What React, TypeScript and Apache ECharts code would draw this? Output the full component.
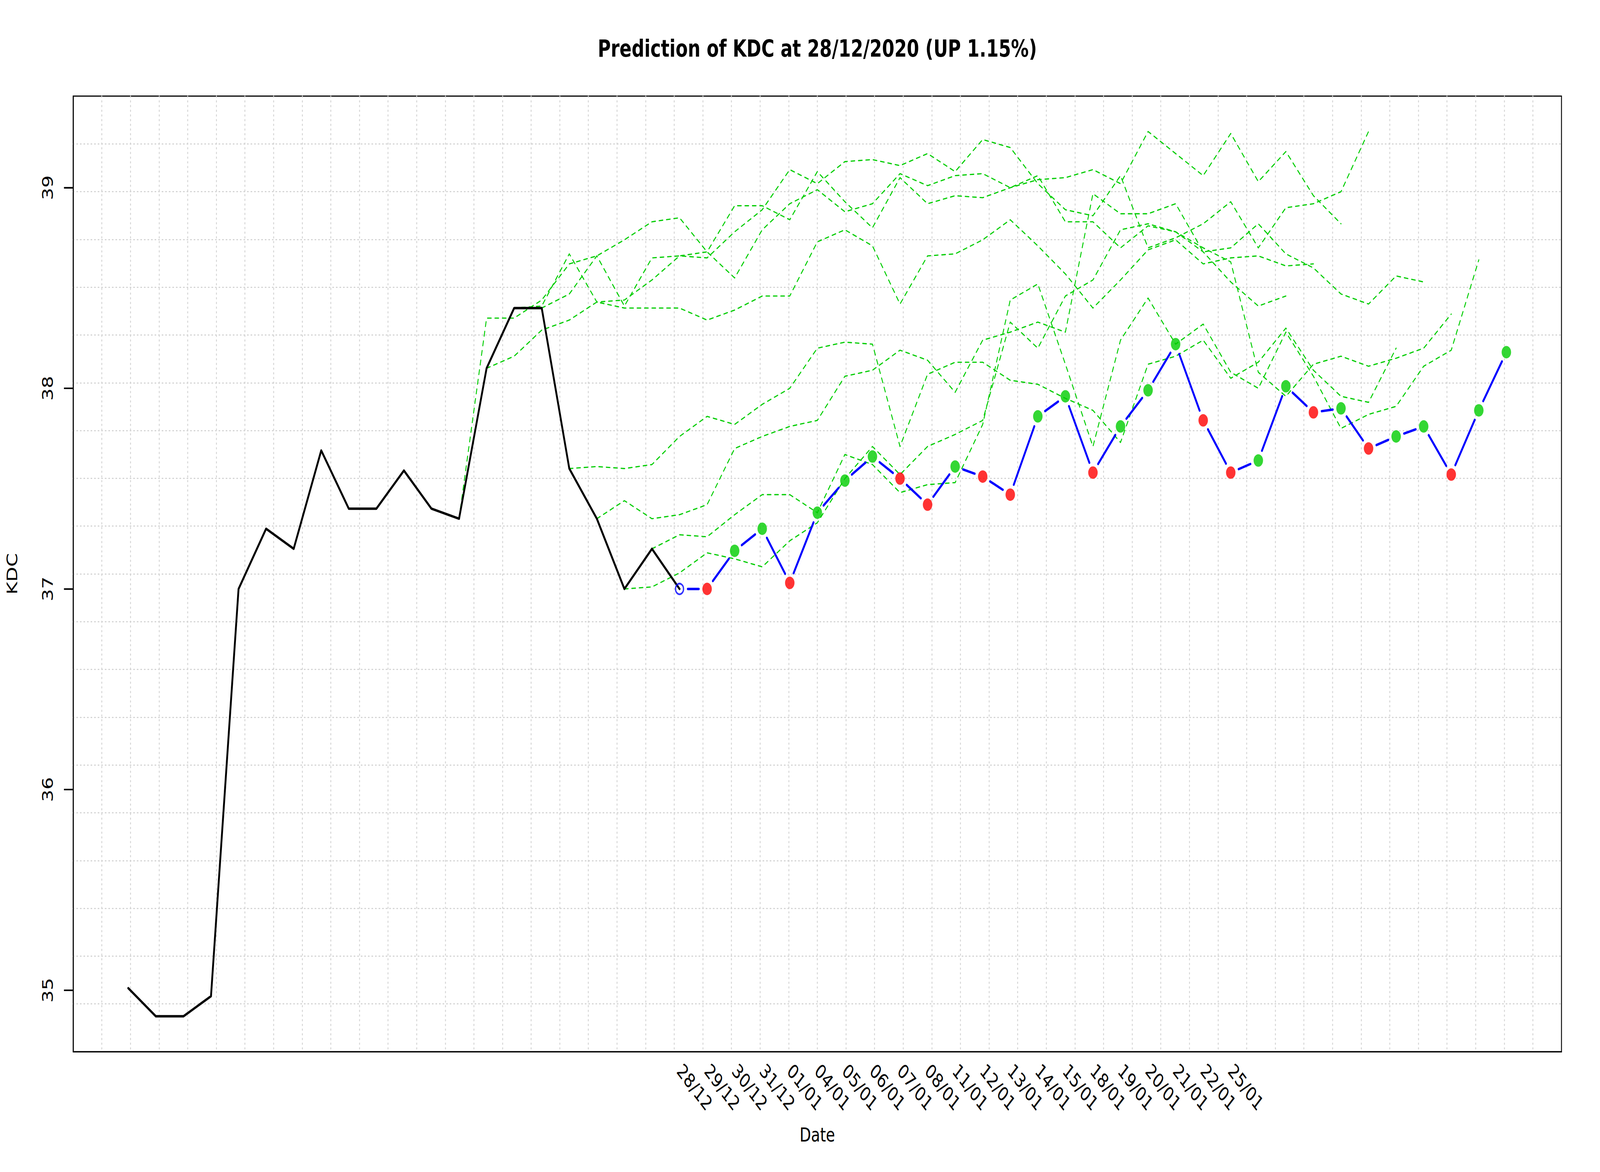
import React, { useEffect, useRef } from "react";
import * as echarts from "echarts";

// ---------- texts ----------
const TITLE = "Prediction of KDC at 28/12/2020 (UP 1.15%)";
const X_NAME = "Date";
const Y_NAME = "KDC";

// ---------- axis ticks / labels ----------
const DATE_LABEL_START = 20;
const DATE_LABELS = [
  "28/12", "29/12", "30/12", "31/12", "01/01", "04/01", "05/01", "06/01", "07/01", "08/01",
  "11/01", "12/01", "13/01", "14/01", "15/01", "18/01", "19/01", "20/01", "21/01", "22/01", "25/01",
];
const Y_TICKS = [35, 36, 37, 38, 39];

// ---------- data ----------
// observed prices, index 0..20
const HISTORY = [
  35.01, 34.87, 34.87, 34.97, 37.0, 37.3, 37.2, 37.69, 37.4, 37.4,
  37.59, 37.4, 37.35, 38.1, 38.4, 38.4, 37.6, 37.35, 37.0, 37.2, 37.0,
];
// current prediction, index 20..50
const FORECAST_START = 20;
const FORECAST = [
  37.0, 37.0, 37.19, 37.3, 37.03, 37.38, 37.54, 37.66, 37.55, 37.42,
  37.61, 37.56, 37.47, 37.86, 37.96, 37.58, 37.81, 37.99, 38.22, 37.84,
  37.58, 37.64, 38.01, 37.88, 37.9, 37.7, 37.76, 37.81, 37.57, 37.89, 38.18,
];
// earlier predictions (start index, values)
const PAST_12 = [37.35, 38.35, 38.35, 38.44, 38.62, 38.66, 38.74, 38.83, 38.85, 38.68, 38.55, 38.79, 38.92, 38.99, 38.88, 38.92, 39.07, 39.01, 39.06, 39.07, 39.0, 39.06, 38.83, 38.83, 38.7, 38.81, 38.78, 38.68, 38.53, 38.41, 38.46];
const PAST_13 = [38.1, 38.16, 38.29, 38.34, 38.43, 38.4, 38.4, 38.4, 38.34, 38.39, 38.46, 38.46, 38.73, 38.79, 38.71, 38.42, 38.66, 38.67, 38.74, 38.84, 38.71, 38.57, 38.4, 38.54, 38.69, 38.74, 38.62, 38.65, 38.66, 38.61, 38.62];
const PAST_14 = [38.4, 38.41, 38.67, 38.43, 38.44, 38.54, 38.66, 38.68, 38.91, 38.91, 38.84, 39.08, 38.93, 38.8, 39.05, 38.92, 38.96, 38.95, 39.0, 39.04, 39.05, 39.09, 39.02, 39.28, 39.17, 39.06, 39.27, 39.03, 39.18, 38.96, 38.82];
const PAST_15 = [38.4, 38.47, 38.66, 38.41, 38.65, 38.66, 38.65, 38.78, 38.89, 39.09, 39.02, 39.13, 39.14, 39.11, 39.17, 39.08, 39.24, 39.2, 39.02, 38.89, 38.86, 39.06, 38.7, 38.75, 38.82, 38.93, 38.7, 38.9, 38.92, 38.98, 39.28];
const PAST_16 = [37.6, 37.61, 37.6, 37.62, 37.76, 37.86, 37.82, 37.92, 38.0, 38.2, 38.23, 38.22, 37.71, 38.07, 38.13, 38.13, 38.04, 38.02, 37.95, 37.89, 37.73, 38.12, 38.16, 38.24, 38.05, 38.13, 38.3, 38.09, 37.96, 37.93, 38.2];
const PAST_17 = [37.35, 37.44, 37.35, 37.37, 37.42, 37.7, 37.76, 37.81, 37.84, 38.06, 38.09, 38.19, 38.14, 37.98, 38.24, 38.28, 38.33, 38.28, 38.97, 38.87, 38.87, 38.92, 38.68, 38.7, 38.82, 38.67, 38.6, 38.47, 38.42, 38.56, 38.53];
const PAST_18 = [37.0, 37.01, 37.08, 37.18, 37.15, 37.11, 37.24, 37.33, 37.55, 37.71, 37.57, 37.71, 37.77, 37.84, 38.33, 38.2, 38.46, 38.54, 38.79, 38.82, 38.78, 38.7, 38.63, 38.08, 37.96, 38.12, 38.16, 38.11, 38.15, 38.2, 38.37];
const PAST_19 = [37.2, 37.27, 37.26, 37.37, 37.47, 37.47, 37.38, 37.67, 37.62, 37.48, 37.52, 37.53, 37.82, 38.44, 38.52, 38.12, 37.71, 38.24, 38.45, 38.22, 38.32, 38.08, 38.0, 38.28, 38.06, 37.8, 37.87, 37.91, 38.11, 38.19, 38.64];
const PAST_STARTS = [12, 13, 14, 15, 16, 17, 18, 19];
const PAST_SERIES = [PAST_12, PAST_13, PAST_14, PAST_15, PAST_16, PAST_17, PAST_18, PAST_19];

// ---------- styling ----------
const FONT = "DejaVu Sans";
const GREEN = "#00CD00";
const RED = "#FF0000";
const BLUE = "#0000FF";
const GRID_NX = 52;
const GRID_NY = 20;
const DESIGN_W = 5400;
const DESIGN_H = 3000;
const TICK_LEN = 31;

// R-like axis extents: data range padded by 4%.
// The x axis runs from 0, so positions are index + X_PAD (keeps the y axis on the left edge).
const LAST_INDEX = FORECAST_START + FORECAST.length - 1;
const X_PAD = 0.04 * LAST_INDEX;
const X_SPAN = LAST_INDEX + 2 * X_PAD;
const px = (i: number) => i + X_PAD;
const ALL_VALUES = [...HISTORY, ...FORECAST, ...PAST_SERIES.flat()];
const V_MIN = Math.min(...ALL_VALUES);
const V_MAX = Math.max(...ALL_VALUES);
const Y_MIN = V_MIN - 0.04 * (V_MAX - V_MIN);
const Y_MAX = V_MAX + 0.04 * (V_MAX - V_MIN);

const PLOT = { left: 247, top: 246, width: 5023, height: 2446 };

if (typeof document !== "undefined" && document.body) {
  document.body.style.margin = "0";
  document.body.style.overflow = "hidden";
  document.documentElement.style.overflow = "hidden";
}

function buildOption(): echarts.EChartsCoreOption {
  const labelPos = DATE_LABELS.map((_, i) => px(DATE_LABEL_START + i));
  const segs = FORECAST.slice(1).map((v, i) => [
    px(FORECAST_START + i), FORECAST[i], px(FORECAST_START + i + 1), v,
  ]);
  const dots = FORECAST.slice(1).map((v, i) => ({
    value: [px(FORECAST_START + i + 1), v],
    itemStyle: { color: v > FORECAST[i] ? GREEN : RED },
  }));

  const gridLine = {
    show: true,
    showMinLine: false,
    showMaxLine: false,
    lineStyle: { color: "#D3D3D3", width: 3, type: [3, 9], cap: "round" },
  };

  return {
    animation: false,
    backgroundColor: "#FFFFFF",
    title: {
      text: TITLE,
      left: PLOT.left + PLOT.width / 2,
      top: 95,
      textAlign: "center",
      padding: 0,
      textStyle: { fontFamily: FONT, fontWeight: "bold", fontSize: 60, color: "#000" },
    },
    grid: {
      ...PLOT,
      show: true,
      borderColor: "#000",
      borderWidth: 3,
      backgroundColor: "transparent",
      containLabel: false,
    },
    xAxis: [
      {
        type: "value",
        min: 0,
        max: X_SPAN,
        position: "bottom",
        axisLine: { show: true, lineStyle: { color: "#000", width: 3 } },
        axisTick: { show: false },
        splitLine: { show: false },
        axisLabel: {
          customValues: labelPos,
          formatter: (v: number) => DATE_LABELS[Math.round(v - X_PAD) - DATE_LABEL_START] ?? "",
          rotate: -45,
          margin: 40,
          fontFamily: FONT,
          fontSize: 50,
          color: "#000",
        },
        name: X_NAME,
        nameLocation: "middle",
        nameGap: 188,
        nameTextStyle: { fontFamily: FONT, fontSize: 50, color: "#000" },
      },
      {
        type: "value",
        min: 0,
        max: GRID_NX,
        interval: 1,
        position: "bottom",
        axisLine: { show: false },
        axisTick: { show: false },
        axisLabel: { show: false },
        splitLine: gridLine,
      },
    ],
    yAxis: [
      {
        type: "value",
        min: Y_MIN,
        max: Y_MAX,
        position: "left",
        axisLine: { show: true, lineStyle: { color: "#000", width: 3 } },
        axisTick: {
          show: true,
          customValues: Y_TICKS,
          length: TICK_LEN,
          lineStyle: { color: "#000", width: 3.5 },
        },
        axisLabel: {
          customValues: Y_TICKS,
          rotate: 90,
          margin: 62,
          fontFamily: FONT,
          fontSize: 50,
          color: "#000",
        },
        splitLine: { show: false },
        name: Y_NAME,
        nameLocation: "middle",
        nameRotate: 90,
        nameGap: 181,
        nameTextStyle: { fontFamily: FONT, fontSize: 50, color: "#000" },
      },
      {
        type: "value",
        min: 0,
        max: GRID_NY,
        interval: 1,
        position: "left",
        axisLine: { show: false },
        axisTick: { show: false },
        axisLabel: { show: false },
        splitLine: gridLine,
      },
    ],
    series: [
      {
        // tick marks at the labelled y values, placed through the axis scale
        type: "custom",
        name: "yTicks",
        xAxisIndex: 0,
        yAxisIndex: 0,
        clip: false,
        silent: true,
        z: 10,
        data: Y_TICKS.map((v) => [0, v]),
        renderItem: (_p: any, api: any) => {
          const c = api.coord([api.value(0), api.value(1)]);
          return {
            type: "line",
            shape: { x1: c[0] - TICK_LEN, y1: c[1], x2: c[0], y2: c[1] },
            style: { stroke: "#000", lineWidth: 3.5 },
          };
        },
      },
      ...PAST_SERIES.map((arr, k) => ({
        type: "line",
        name: "past" + PAST_STARTS[k],
        xAxisIndex: 0,
        yAxisIndex: 0,
        data: arr.map((v, i) => [px(PAST_STARTS[k] + i), v]),
        symbol: "none",
        z: 2,
        lineStyle: { color: GREEN, width: 3.1, type: [12.5, 12.5], cap: "round", join: "round" },
      })),
      {
        type: "line",
        name: "history",
        xAxisIndex: 0,
        yAxisIndex: 0,
        data: HISTORY.map((v, i) => [px(i), v]),
        symbol: "none",
        z: 3,
        lineStyle: { color: "#000", width: 6.25, cap: "round", join: "round" },
      },
      {
        type: "custom",
        name: "forecastLine",
        xAxisIndex: 0,
        yAxisIndex: 0,
        z: 4,
        encode: { x: [0, 2], y: [1, 3] },
        data: segs,
        renderItem: (_p: any, api: any) => {
          const a = api.coord([api.value(0), api.value(1)]);
          const b = api.coord([api.value(2), api.value(3)]);
          const dx = b[0] - a[0];
          const dy = b[1] - a[1];
          const len = Math.hypot(dx, dy);
          const gap = 28;
          if (len <= 2 * gap) return null;
          const ux = dx / len;
          const uy = dy / len;
          return {
            type: "line",
            shape: { x1: a[0] + ux * gap, y1: a[1] + uy * gap, x2: b[0] - ux * gap, y2: b[1] - uy * gap },
            style: { stroke: BLUE, lineWidth: 6.25, lineCap: "round" },
          };
        },
      },
      {
        type: "scatter",
        name: "forecastPoints",
        xAxisIndex: 0,
        yAxisIndex: 0,
        z: 5,
        symbol: "circle",
        symbolSize: 32,
        data: dots,
      },
      {
        type: "scatter",
        name: "start",
        xAxisIndex: 0,
        yAxisIndex: 0,
        z: 6,
        symbol: "circle",
        symbolSize: 27,
        itemStyle: { color: "rgba(0,0,0,0)", borderColor: BLUE, borderWidth: 4.5 },
        data: [[px(FORECAST_START), FORECAST[0]]],
      },
    ],
  };
}

export default function App() {
  const ref = useRef<HTMLDivElement>(null);
  const vw = typeof window !== "undefined" && window.innerWidth ? window.innerWidth : DESIGN_W;
  const vh = typeof window !== "undefined" && window.innerHeight ? window.innerHeight : DESIGN_H;
  const sx = vw / DESIGN_W;
  const sy = vh / DESIGN_H;

  useEffect(() => {
    document.body.style.margin = "0";
    document.body.style.overflow = "hidden";
    document.documentElement.style.overflow = "hidden";
    const chart = echarts.init(ref.current!, null, { renderer: "svg" });
    chart.setOption(buildOption());
    return () => chart.dispose();
  }, []);

  return (
    <div style={{ width: vw, height: vh, overflow: "hidden", position: "relative", background: "#fff" }}>
      <div
        ref={ref}
        style={{
          position: "absolute",
          left: 0,
          top: 0,
          width: DESIGN_W,
          height: DESIGN_H,
          transform: `scale(${sx}, ${sy})`,
          transformOrigin: "0 0",
          background: "#fff",
        }}
      />
    </div>
  );
}
